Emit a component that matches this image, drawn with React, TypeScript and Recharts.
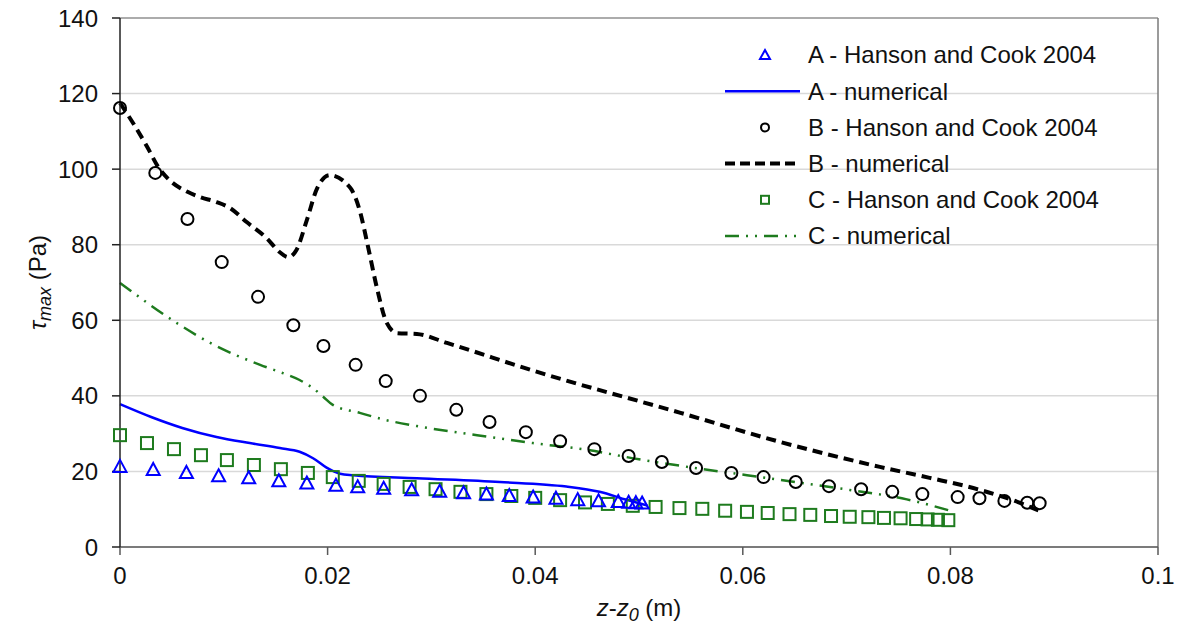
import React from "react"
import {
  ComposedChart,
  Line,
  Scatter,
  XAxis,
  YAxis,
  CartesianGrid,
  ReferenceLine,
} from "recharts"

// A - measured (triangles) and numerical (solid blue)
const A_OBS_X = [0, 0.0032, 0.0064, 0.0095, 0.0124, 0.0153, 0.018, 0.0208, 0.0229, 0.0254, 0.0281, 0.0308, 0.0331, 0.0353, 0.0375, 0.0398, 0.042, 0.0441, 0.0461, 0.048, 0.049, 0.0497, 0.0503]
const A_OBS_Y = [21.2, 20.4, 19.6, 18.7, 18.2, 17.4, 16.8, 16.2, 15.8, 15.4, 15, 14.6, 14.2, 13.9, 13.5, 13.1, 12.8, 12.4, 12.1, 11.9, 11.7, 11.6, 11.5]
const A_NUM_X = [0, 0.003, 0.006, 0.0093, 0.0125, 0.0154, 0.0173, 0.0186, 0.0199, 0.0212, 0.0225, 0.0286, 0.0366, 0.043, 0.0462, 0.0488, 0.0508]
const A_NUM_Y = [37.8, 34.4, 31.5, 29.1, 27.5, 26.2, 25.2, 23.5, 21, 19.4, 19, 18.2, 17.2, 16, 14.6, 12.5, 11]

// B - measured (circles) and numerical (dashed black)
const B_OBS_X = [0, 0.0034, 0.0065, 0.0098, 0.0133, 0.0167, 0.0196, 0.0227, 0.0256, 0.0289, 0.0324, 0.0356, 0.0391, 0.0424, 0.0457, 0.049, 0.0522, 0.0555, 0.0589, 0.062, 0.0651, 0.0683, 0.0714, 0.0744, 0.0773, 0.0807, 0.0828, 0.0852, 0.0874, 0.0886]
const B_OBS_Y = [116.2, 99, 86.8, 75.4, 66.2, 58.7, 53.2, 48.2, 43.9, 40, 36.3, 33.1, 30.4, 28, 25.9, 24.1, 22.5, 20.9, 19.6, 18.5, 17.2, 16.1, 15.3, 14.6, 14, 13.2, 12.9, 12.2, 11.7, 11.6]
const B_NUM_X = [0, 0.0013, 0.0026, 0.0037, 0.0048, 0.0065, 0.0077, 0.0093, 0.0106, 0.0122, 0.0141, 0.0154, 0.0162, 0.017, 0.018, 0.019, 0.0202, 0.0222, 0.0231, 0.0239, 0.0248, 0.0257, 0.0267, 0.0286, 0.0315, 0.04, 0.054, 0.0636, 0.0732, 0.078, 0.0822, 0.086, 0.0888]
const B_NUM_Y = [117.5, 112, 106, 100.5, 97, 94, 92.6, 91.3, 89.7, 86, 81.8, 78, 76.7, 78.6, 86.5, 95, 98.4, 95, 89, 79.4, 68, 59.3, 56.6, 56.4, 54, 46.5, 35.5, 27.8, 21.2, 18.3, 15.6, 12.4, 9.3]

// C - measured (squares) and numerical (dash-dot green)
const C_OBS_X = [0, 0.0026, 0.0052, 0.0078, 0.0103, 0.0129, 0.0155, 0.0181, 0.0205, 0.023, 0.0254, 0.0279, 0.0304, 0.0328, 0.0353, 0.0377, 0.04, 0.0424, 0.0448, 0.047, 0.0494, 0.0516, 0.0539, 0.0561, 0.0583, 0.0604, 0.0624, 0.0645, 0.0665, 0.0685, 0.0703, 0.0721, 0.0736, 0.0752, 0.0767, 0.0778, 0.0788, 0.0798]
const C_OBS_Y = [29.6, 27.5, 25.9, 24.3, 23, 21.7, 20.6, 19.6, 18.5, 17.5, 16.7, 15.9, 15.3, 14.6, 14, 13.5, 13, 12.4, 11.8, 11.4, 10.9, 10.6, 10.3, 10.1, 9.6, 9.3, 9, 8.7, 8.5, 8.2, 8, 7.9, 7.7, 7.6, 7.4, 7.3, 7.2, 7.1]
const C_NUM_X = [0, 0.0058, 0.0087, 0.0135, 0.0154, 0.0173, 0.0186, 0.0196, 0.0205, 0.0231, 0.0253, 0.0286, 0.0344, 0.0398, 0.045, 0.05, 0.0552, 0.0604, 0.0655, 0.0703, 0.0758, 0.08]
const C_NUM_Y = [69.9, 58.7, 54, 48.2, 46.3, 44.2, 42, 39.7, 37.6, 35.5, 33.8, 32, 29.6, 27.5, 25.7, 23.2, 21, 19, 17, 15.1, 12.6, 9.6]

const X_TICKS = [0, 0.02, 0.04, 0.06, 0.08, 0.1]
const Y_TICKS = [0, 20, 40, 60, 80, 100, 120, 140]

const pts = (xs: number[], ys: number[]) => xs.map((x, i) => ({ x, y: ys[i] }))

const BLUE = "#0000ff"
const GREEN = "#1e7b1e"
const FONT = "'Liberation Sans', Arial, sans-serif"
const FS = 24
const C_DASH = "14 7 2 7 2 7"

const Triangle = (p: any) => (
  <path
    d={`M${p.cx},${p.cy - 7} L${p.cx + 6.5},${p.cy + 5} L${p.cx - 6.5},${p.cy + 5} Z`}
    fill="none"
    stroke={BLUE}
    strokeWidth={2}
  />
)
const Circle = (p: any) => (
  <circle cx={p.cx} cy={p.cy} r={6} fill="none" stroke="#000" strokeWidth={2} />
)
const Square = (p: any) => (
  <rect x={p.cx - 6} y={p.cy - 6} width={12} height={12} fill="none" stroke={GREEN} strokeWidth={2} />
)

const LEGEND = [
  { label: "A - Hanson and Cook 2004", kind: "tri" },
  { label: "A - numerical", kind: "lineA" },
  { label: "B - Hanson and Cook 2004", kind: "circ" },
  { label: "B - numerical", kind: "lineB" },
  { label: "C - Hanson and Cook 2004", kind: "sq" },
  { label: "C - numerical", kind: "lineC" },
]

function LegendBox() {
  return (
    <svg width={440} height={230} style={{ position: "absolute", left: 720, top: 36 }}>
      {LEGEND.map((e, i) => {
        const y = 19 + i * 36.2
        let sym: React.ReactNode = null
        if (e.kind === "tri")
          sym = <path d={`M45,${y - 5} L50,${y + 4} L40,${y + 4} Z`} fill="none" stroke={BLUE} strokeWidth={2} />
        if (e.kind === "circ") sym = <circle cx={45} cy={y} r={4} fill="none" stroke="#000" strokeWidth={2} />
        if (e.kind === "sq")
          sym = <rect x={41} y={y - 4} width={8} height={8} fill="none" stroke={GREEN} strokeWidth={2} />
        if (e.kind === "lineA") sym = <line x1={5} x2={80} y1={y} y2={y} stroke={BLUE} strokeWidth={2.5} />
        if (e.kind === "lineB")
          sym = <line x1={5} x2={80} y1={y} y2={y} stroke="#000" strokeWidth={4} strokeDasharray="10 5" />
        if (e.kind === "lineC")
          sym = <line x1={5} x2={80} y1={y} y2={y} stroke={GREEN} strokeWidth={2.5} strokeDasharray={C_DASH} />
        return (
          <g key={i}>
            {sym}
            <text x={88} y={y} dy="0.35em" fontSize={FS} fontFamily={FONT} fill="#111">
              {e.label}
            </text>
          </g>
        )
      })}
    </svg>
  )
}

const YLabel = (props: any) => {
  const { viewBox } = props
  const cx = 38
  const cy = viewBox.y + viewBox.height / 2
  return (
    <text
      x={cx}
      y={cy}
      transform={`rotate(-90 ${cx} ${cy})`}
      textAnchor="middle"
      dy="0.35em"
      fontSize={FS}
      fontFamily={FONT}
      fill="#111"
    >
      <tspan fontStyle="italic">τ</tspan>
      <tspan fontStyle="italic" fontSize={18} dy={5}>max</tspan>
      <tspan dy={-5}> (Pa)</tspan>
    </text>
  )
}

const XLabel = (props: any) => {
  const { viewBox } = props
  const cx = viewBox.x + viewBox.width / 2
  return (
    <text x={cx} y={608} textAnchor="middle" dy="0.35em" fontSize={FS} fontFamily={FONT} fill="#111">
      <tspan fontStyle="italic">z</tspan>
      <tspan>-</tspan>
      <tspan fontStyle="italic">z</tspan>
      <tspan fontStyle="italic" fontSize={18} dy={5}>0</tspan>
      <tspan dy={-5}> (m)</tspan>
    </text>
  )
}

export default function App() {
  const tick = { fill: "#111", fontSize: FS, fontFamily: FONT }
  return (
    <div style={{ position: "relative", width: 1185, height: 637, margin: -8, background: "#fff" }}>
      <ComposedChart width={1185} height={637} margin={{ top: 18, right: 27, left: 60, bottom: 30 }}>
        <CartesianGrid vertical={false} stroke="#d9d9d9" strokeWidth={1.5} />
        <XAxis
          type="number"
          dataKey="x"
          domain={[0, 0.1]}
          ticks={X_TICKS}
          tickFormatter={(v) => String(v)}
          tick={tick}
          tickSize={8}
          tickMargin={12}
          height={60}
          stroke="#595959"
          strokeWidth={1.5}
          label={<XLabel />}
        />
        <YAxis
          type="number"
          dataKey="y"
          domain={[0, 140]}
          ticks={Y_TICKS}
          tick={tick}
          tickSize={8}
          tickMargin={14}
          width={60}
          stroke="#222"
          strokeWidth={1.5}
          label={<YLabel />}
        />
        <ReferenceLine y={140} stroke="#9a9a9a" strokeWidth={1.5} />
        <ReferenceLine x={0.1} stroke="#7a7a7a" strokeWidth={1.5} />

        <Line data={pts(C_NUM_X, C_NUM_Y)} dataKey="y" type="monotone" stroke={GREEN} strokeWidth={2.5} strokeDasharray={C_DASH} dot={false} isAnimationActive={false} />
        <Line data={pts(B_NUM_X, B_NUM_Y)} dataKey="y" type="monotone" stroke="#000" strokeWidth={4} strokeDasharray="10 6" dot={false} isAnimationActive={false} />
        <Line data={pts(A_NUM_X, A_NUM_Y)} dataKey="y" type="monotone" stroke={BLUE} strokeWidth={2.5} dot={false} isAnimationActive={false} />

        <Scatter data={pts(C_OBS_X, C_OBS_Y)} dataKey="y" shape={Square} isAnimationActive={false} />
        <Scatter data={pts(B_OBS_X, B_OBS_Y)} dataKey="y" shape={Circle} isAnimationActive={false} />
        <Scatter data={pts(A_OBS_X, A_OBS_Y)} dataKey="y" shape={Triangle} isAnimationActive={false} />
      </ComposedChart>
      <LegendBox />
    </div>
  )
}
